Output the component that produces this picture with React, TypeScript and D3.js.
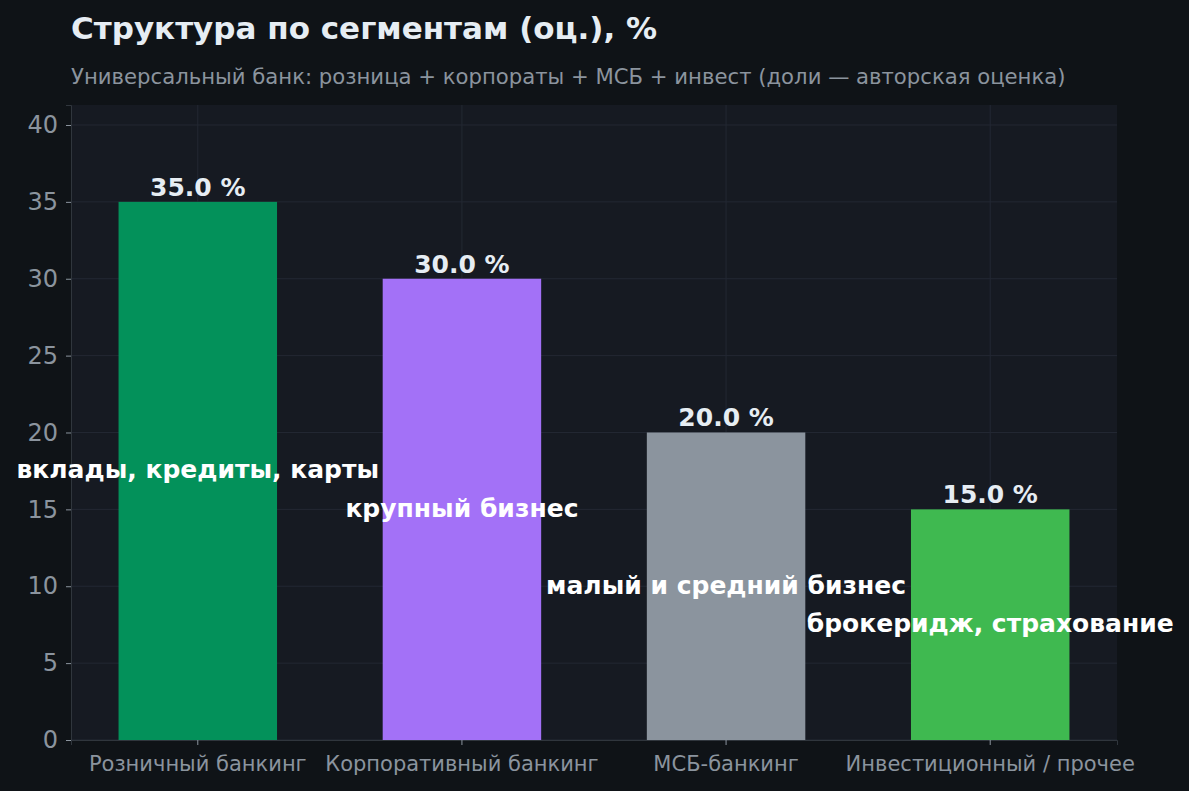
import * as d3 from "d3";
import { useEffect, useRef } from "react";

const categories = [
  "Розничный банкинг",
  "Корпоративный банкинг",
  "МСБ-банкинг",
  "Инвестиционный / прочее",
];
const shares = [35, 30, 20, 15];
const notes = [
  "вклады, кредиты, карты",
  "крупный бизнес",
  "малый и средний бизнес",
  "брокеридж, страхование",
];
const colors = ["#03915a", "#a371f7", "#8b949e", "#3fb950"];
const yTicks = [0, 5, 10, 15, 20, 25, 30, 35, 40];

const FONT = "'DejaVu Sans', sans-serif";

const App: React.FC = () => {
  const ref = useRef<SVGSVGElement | null>(null);

  useEffect(() => {
    const width = 1189;
    const height = 791;
    const margin = { top: 105, right: 72, bottom: 51, left: 71 };

    const svg = d3.select(ref.current);
    svg.selectAll("*").remove();

    // page background
    svg.append("rect").attr("width", width).attr("height", height).attr("fill", "#0f1317");

    const x = d3
      .scaleBand()
      .domain(categories)
      .range([margin.left, width - margin.right])
      .paddingInner(0.4)
      .paddingOuter(0.18);
    const y = d3
      .scaleLinear()
      .domain([0, d3.max(shares)! * 1.18])
      .range([height - margin.bottom, margin.top]);

    // plot area
    svg
      .append("rect")
      .attr("x", margin.left)
      .attr("y", margin.top)
      .attr("width", width - margin.left - margin.right)
      .attr("height", height - margin.top - margin.bottom)
      .attr("fill", "#161a22");

    // grid
    const grid = svg.append("g").attr("stroke", "#232833").attr("stroke-width", 1);
    grid
      .selectAll("line.h")
      .data(yTicks)
      .enter()
      .append("line")
      .attr("x1", margin.left)
      .attr("x2", width - margin.right)
      .attr("y1", (d) => y(d))
      .attr("y2", (d) => y(d));
    grid
      .selectAll("line.v")
      .data(categories)
      .enter()
      .append("line")
      .attr("x1", (d) => x(d)! + x.bandwidth() / 2)
      .attr("x2", (d) => x(d)! + x.bandwidth() / 2)
      .attr("y1", margin.top)
      .attr("y2", height - margin.bottom);

    // bars
    svg
      .selectAll("rect.bar")
      .data(categories)
      .enter()
      .append("rect")
      .attr("x", (d) => x(d)!)
      .attr("y", (d, i) => y(shares[i]))
      .attr("width", x.bandwidth())
      .attr("height", (d, i) => y(0) - y(shares[i]))
      .attr("fill", (d, i) => colors[i]);

    // y axis
    const yAxis = svg
      .append("g")
      .attr("transform", `translate(${margin.left},0)`)
      .call(d3.axisLeft(y).tickValues(yTicks).tickSize(5).tickPadding(8));
    yAxis.select(".domain").attr("stroke", "#30363d");
    yAxis.selectAll(".tick line").attr("stroke", "#8b949e");
    yAxis
      .selectAll(".tick text")
      .attr("fill", "#8b949e")
      .attr("font-family", FONT)
      .attr("font-size", 24);

    // x axis
    const xAxis = svg
      .append("g")
      .attr("transform", `translate(0,${height - margin.bottom})`)
      .call(d3.axisBottom(x).tickSize(5).tickPadding(11));
    xAxis.select(".domain").attr("stroke", "#30363d");
    xAxis.selectAll(".tick line").attr("stroke", "#8b949e");
    xAxis
      .selectAll(".tick text")
      .attr("fill", "#8b949e")
      .attr("font-family", FONT)
      .attr("font-size", 21);

    // value labels
    svg
      .selectAll("text.val")
      .data(categories)
      .enter()
      .append("text")
      .attr("x", (d) => x(d)! + x.bandwidth() / 2)
      .attr("y", (d, i) => y(shares[i]) - 6)
      .attr("text-anchor", "middle")
      .attr("fill", "#e6edf3")
      .attr("font-family", FONT)
      .attr("font-weight", "bold")
      .attr("font-size", 25)
      .text((d, i) => `${shares[i].toFixed(1)} %`);

    // notes inside bars
    svg
      .selectAll("text.note")
      .data(categories)
      .enter()
      .append("text")
      .attr("x", (d) => x(d)! + x.bandwidth() / 2)
      .attr("y", (d, i) => y(shares[i] / 2))
      .attr("dy", "0.3em")
      .attr("text-anchor", "middle")
      .attr("fill", "#ffffff")
      .attr("font-family", FONT)
      .attr("font-weight", "bold")
      .attr("font-size", 25)
      .text((d, i) => notes[i]);

    // titles
    svg
      .append("text")
      .attr("x", 71)
      .attr("y", 39)
      .attr("fill", "#e6edf3")
      .attr("font-family", FONT)
      .attr("font-weight", "bold")
      .attr("font-size", 31)
      .text("Структура по сегментам (оц.), %");
    svg
      .append("text")
      .attr("x", 71)
      .attr("y", 84)
      .attr("fill", "#8b949e")
      .attr("font-family", FONT)
      .attr("font-size", 21.2)
      .text("Универсальный банк: розница + корпораты + МСБ + инвест (доли — авторская оценка)");
  }, []);

  return (
    <svg
      ref={ref}
      width={1189}
      height={791}
      style={{ position: "absolute", left: 0, top: 0, display: "block" }}
    />
  );
};

export default App;
